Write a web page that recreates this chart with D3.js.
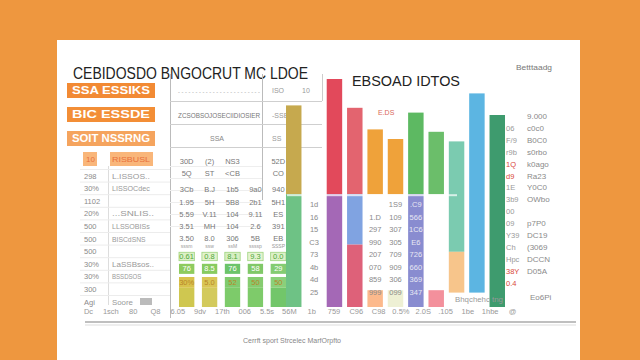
<!DOCTYPE html>
<html><head><meta charset="utf-8">
<script src="https://cdn.jsdelivr.net/npm/d3@7"></script>
<style>html,body{margin:0;padding:0;background:#EE973F;}svg{display:block}</style>
</head><body><svg id="c" width="640" height="360"></svg>
<script>
// ---------- data ----------
const barCats = ["Q1", "", "Q2", "Q3", "Q4", "Q5", "Q6", "Q7", "Q8", "Q9", "Q10"];
const mainCats = ["Q1", "Q2", "Q3", "Q4", "Q5", "Q6", "Q7", "Q8", "Q9", "Q10"];
const upperTop = [84, 95, 83, 74, 70, 81, 73, 69, 89, 80];
const upperBase = [47, 47, 47, 47, 47, 47, 47, 23, 6, 0];
const midBase = [0, 0, 26, 0, 0, 0, 0, 6, 0, 0];
const midTop = [47, 47, 47, 0, 0, 47, 0, 23, 0, 0];
const lowTop = [0, 0, 26, 7, 7, 0, 7, 0, 0, 0];
const upperColor = ["#C6A94E", "#E2495B", "#E3646F", "#EFA23A", "#EFA23A", "#5DB962", "#6BBE6A", "#7BCBB0", "#5CB5E2", "#3E9B6E"];
const midColor = ["#5EBB78", "#9A58AE", "#7299DE", null, null, "#7C7FCB", null, "#F6BF7E", null, null];
const lowColor = [null, null, "#DE6179", "#FCB98C", "#EEF0D4", null, "#F3909C", null, null, null];

// mini stacked cells in the table: [from, to] in value units
const miniCats = ["M1", "M2", "M3", "M4", "M5"];
const miniSegs = [[0, 8], [8, 12.5], [13.8, 18], [19.3, 22.8]];
const miniColors = [
  ["#CFC750", "#D3CA5C", "#7DCB6A", "#7ECB6A", "#72C66A"],
  ["#D8C24C", "#D9C656", "#80CB6E", "#86CC70", "#8AD07A"],
  ["#8ECB5E", "#88CB60", "#6CC46A", "#80C868", "#84CC72"],
  ["#DDF0C6", "#E2F2CC", "#D6EEC2", "#E4F3D0", "#DDF0C8"]
];
const miniLabels = [
  ["", "", "", "", ""],
  ["30%", "5.0", "52", "50", "50"],
  ["76", "8.5", "76", "58", "29"],
  ["0.61", "0.8", "8.1", "9.3", "0.0"]
];
const miniLabelColors = ["#fff", "#B8862A", "#ffffff", "#4FA83A"];

const title = "CEBIDOSDO BNGOCRUT MC LDOE";
const subTitle = "EBSOAD IDTOS";
const cornerLabel = "Betttaadg";
const footer = "Cerrft sport  Strcelec  MarfOrpfto";
const tagLabels = ["SSA  ESSIKS", "BIC   ESSDE", "SOIT NSSRNG"];
const rowLabels = ["298", "30%", "1102", "20%", "500", "500", "500", "30%", "30%", "300", "Agi"];
const sideLabels = ["L.ISSOS..", "LISSOCdec", "", "...SNLIS..", "LLSSOBISs", "BISCdSNS", "", "LaSSBsos..", "BSSDSOS", "", "Soore"];
const axisLabels = ["Dc", "1sch", "80", "Q8", "6.05", "9dv", "17th", "006", "5.5s", "56M", "1b", "759", "C96", "C98", "0.5%", "2.0S", ".105", "1be", "1hbe", "@"];
const cellRows = [
  ["30D", "(2)", "NS3", "", "52D"],
  ["5Q", "ST", "<CB", "", "CO"],
  ["3Cb", "B.J", "1b5", "9a0", "940"],
  ["1.95", "5H", "5B8", "2b1", "5H1"],
  ["5.59", "V.11", "104", "9.11", "ES"],
  ["3.51", "MH", "104", "2.6", "391"],
  ["3.50", "8.0", "306", "5B", "EB"]
];
const smallRow = ["sssm", "ssw", "ssM", "ssssp", "SSSP"];
const overlayCats = ["", "Q4", "Q5", "Q6"];
const overlayCols = [
  ["1d", "16", "15", "C3", "73", "4b", "4d", "25"],
  ["", "1.D", "297", "990", "207", "070", "859", "999"],
  ["1S9", "109", "307", "305", "709", "909", "306", "099"],
  [".C9", "566", "1C6", "E6", "726", "660", "369", "347"]
];
const rightA = ["", "06", "F/9", "r9b", "1Q", "d9", "1E", "3b9", "00", "09", "Y39", "Ch", "Hpc", "38Y", "0.4"];
const rightB = ["9.000", "c0c0", "B0C0", "s0rbo", "k0ago", "Ra23", "Y0C0", "OWbo", "", "p7P0", "DC19", "(3069", "DCCN", "D05A", ""];
const rightRed = [false, false, false, false, true, true, false, false, false, false, false, false, false, true, true];

// ---------- drawing ----------
const svg = d3.select("#c");
const F = "'Liberation Sans', 'DejaVu Sans', sans-serif";

svg.append("rect").attr("width", 640).attr("height", 360).attr("fill", "#EE973F");
svg.append("rect").attr("x", 57).attr("y", 40).attr("width", 523).attr("height", 330).attr("fill", "#fff");

const y = d3.scaleLinear().domain([0, 100]).range([307, 67]);
const x = d3.scaleBand().domain(barCats).range([286, 505]).paddingInner(0.24);
const xm = d3.scaleBand().domain(miniCats).range([179, 286]).paddingInner(0.33);

// titles
svg.append("text").attr("x", 73).attr("y", 79).attr("font-family", F).attr("font-size", 17)
  .attr("fill", "#222").attr("textLength", 235).attr("lengthAdjust", "spacingAndGlyphs").text(title);
svg.append("text").attr("x", 352).attr("y", 86).attr("font-family", F).attr("font-size", 15)
  .attr("fill", "#222").attr("textLength", 108).attr("lengthAdjust", "spacingAndGlyphs").text(subTitle);
svg.append("text").attr("x", 516).attr("y", 70).attr("font-family", F).attr("font-size", 8)
  .attr("fill", "#777").attr("textLength", 36).attr("lengthAdjust", "spacingAndGlyphs").text(cornerLabel);

// table grid
const g = svg.append("g").attr("stroke", "#cfcfcf").attr("stroke-width", 1);
g.append("line").attr("x1", 170.5).attr("x2", 170.5).attr("y1", 74).attr("y2", 318).attr("stroke", "#bbb");
g.append("line").attr("x1", 262.5).attr("x2", 262.5).attr("y1", 74).attr("y2", 200).attr("stroke", "#bbb");
g.append("line").attr("x1", 322.5).attr("x2", 322.5).attr("y1", 74).attr("y2", 101).attr("stroke", "#ccc");
[101.5, 124.5, 147.5].forEach(v => g.append("line").attr("x1", 170).attr("x2", 322).attr("y1", v).attr("y2", v));
g.append("line").attr("x1", 108.5).attr("x2", 108.5).attr("y1", 166).attr("y2", 305).attr("stroke", "#ddd");
d3.range(11).forEach(i => {
  const yy = 169.5 + i * 12.6;
  g.append("line").attr("x1", 80).attr("x2", 170).attr("y1", yy).attr("y2", yy).attr("stroke", "#ececec");
});
d3.range(6).forEach(i => {
  const yy = 166.5 + i * 12;
  g.append("line").attr("x1", 170).attr("x2", 262).attr("y1", yy).attr("y2", yy).attr("stroke", "#eee");
});

// header cells
svg.append("text").attr("x", 178).attr("y", 94).attr("font-family", F).attr("font-size", 5).attr("fill", "#999")
  .attr("textLength", 82).attr("lengthAdjust", "spacingAndGlyphs").text("- - - - - - - - - - - - - - - - - - - - - - - -");
svg.append("text").attr("x", 178).attr("y", 118).attr("font-family", F).attr("font-size", 7).attr("fill", "#777")
  .attr("textLength", 82).attr("lengthAdjust", "spacingAndGlyphs").text("ZCSOBSOJOSECIIDIOSIER");
svg.append("text").attr("x", 210).attr("y", 141).attr("font-family", F).attr("font-size", 7).attr("fill", "#888").text("SSA");
[["ISO", 93], ["-SSB", 118], ["SS", 141]].forEach(d =>
  svg.append("text").attr("x", 272).attr("y", d[1]).attr("font-family", F).attr("font-size", 7).attr("fill", "#999").text(d[0]));
svg.append("text").attr("x", 302).attr("y", 93).attr("font-family", F).attr("font-size", 7).attr("fill", "#999").text("10");

// orange tags
const tagColors = ["#F28A34", "#F38E36", "#F5A45E"];
tagLabels.forEach((t, i) => {
  const yy = 83 + i * 24;
  svg.append("rect").attr("x", 67).attr("y", yy).attr("width", 88).attr("height", 15).attr("fill", tagColors[i]);
  svg.append("text").attr("x", 72).attr("y", yy + 11).attr("font-family", F).attr("font-size", 10).attr("font-weight", "bold")
    .attr("fill", "#fff").attr("textLength", 78).attr("lengthAdjust", "spacingAndGlyphs").text(t);
});
svg.append("rect").attr("x", 83).attr("y", 152).attr("width", 14).attr("height", 14).attr("fill", "#F9B67A");
svg.append("rect").attr("x", 110).attr("y", 152).attr("width", 43).attr("height", 14).attr("fill", "#F9B67A");
svg.append("text").attr("x", 86).attr("y", 162).attr("font-family", F).attr("font-size", 8).attr("fill", "#E8703A").text("10");
svg.append("text").attr("x", 112).attr("y", 162).attr("font-family", F).attr("font-size", 8).attr("fill", "#E8703A")
  .attr("textLength", 38).attr("lengthAdjust", "spacingAndGlyphs").text("RISBUSL");

// left column labels
rowLabels.forEach((t, i) => svg.append("text").attr("x", 84).attr("y", 178.5 + i * 12.6).attr("font-family", F)
  .attr("font-size", 7.5).attr("fill", "#8a8a8a").text(t));
sideLabels.forEach((t, i) => {
  if (!t) return;
  svg.append("text").attr("x", 112).attr("y", 178.5 + i * 12.6).attr("font-family", F)
    .attr("font-size", 7).attr("fill", "#999").attr("textLength", t.length * 4.2).attr("lengthAdjust", "spacingAndGlyphs").text(t);
});
svg.append("rect").attr("x", 140).attr("y", 298).attr("width", 12).attr("height", 7).attr("fill", "#bbb");

// cell numbers
const cellY = [164, 176, 192, 205, 217, 229, 241];
cellRows.forEach((row, r) => row.forEach((t, c) => {
  svg.append("text").attr("x", xm(miniCats[c]) + xm.bandwidth() / 2).attr("y", cellY[r]).attr("text-anchor", "middle")
    .attr("font-family", F).attr("font-size", 7.5).attr("fill", "#777").text(t);
}));
smallRow.forEach((t, c) => svg.append("text").attr("x", xm(miniCats[c]) + xm.bandwidth() / 2).attr("y", 248)
  .attr("text-anchor", "middle").attr("font-family", F).attr("font-size", 5).attr("fill", "#999").text(t));

// mini stacked cells
const mini = svg.append("g");
miniCats.forEach((c, i) => {
  miniSegs.forEach((s, k) => {
    mini.append("rect").attr("x", xm(c)).attr("width", xm.bandwidth())
      .attr("y", y(s[1])).attr("height", y(s[0]) - y(s[1])).attr("fill", miniColors[k][i])
      .attr("stroke", k === 3 ? "#9ED47E" : "none").attr("stroke-width", 0.8);
    if (miniLabels[k][i]) mini.append("text").attr("x", xm(c) + xm.bandwidth() / 2).attr("y", (y(s[0]) + y(s[1])) / 2 + 2.5)
      .attr("text-anchor", "middle").attr("font-family", F).attr("font-size", 7.5).attr("fill", miniLabelColors[k]).text(miniLabels[k][i]);
  });
});

// main bars
const bars = svg.append("g");
mainCats.forEach((c, i) => {
  const bx = x(c), bw = x.bandwidth();
  bars.append("rect").attr("x", bx).attr("width", bw).attr("y", y(upperTop[i]))
    .attr("height", y(upperBase[i]) - y(upperTop[i])).attr("fill", upperColor[i]);
  if (midColor[i]) bars.append("rect").attr("x", bx).attr("width", bw).attr("y", y(midTop[i]))
    .attr("height", y(midBase[i]) - y(midTop[i])).attr("fill", midColor[i]).attr("opacity", 0.9);
  if (lowColor[i]) bars.append("rect").attr("x", bx).attr("width", bw).attr("y", y(lowTop[i]))
    .attr("height", y(0) - y(lowTop[i])).attr("fill", lowColor[i]);
});
svg.append("rect").attr("x", 287).attr("y", y(47)).attr("width", 170).attr("height", 2).attr("fill", "#fff").attr("opacity", 0.7);

// overlay numbers
overlayCols.forEach((col, ci) => col.forEach((t, r) =>
  svg.append("text").attr("x", x(overlayCats[ci]) + x.bandwidth() / 2).attr("y", 207 + r * 12.5).attr("text-anchor", "middle")
    .attr("font-family", F).attr("font-size", 7.5).attr("fill", ci === 3 ? "#e8e8f4" : "#8a8a8a").text(t)));
svg.append("text").attr("x", 378).attr("y", 115).attr("font-family", F).attr("font-size", 7).attr("fill", "#D9685A").text("E.DS");
svg.append("text").attr("x", 455).attr("y", 302).attr("font-family", F).attr("font-size", 6.5).attr("fill", "#999")
  .attr("textLength", 48).attr("lengthAdjust", "spacingAndGlyphs").text("Bhqchehc tng");

// right list
rightA.forEach((t, i) => svg.append("text").attr("x", 506).attr("y", 119 + i * 11.9).attr("font-family", F)
  .attr("font-size", 7.5).attr("fill", rightRed[i] ? "#D9483B" : "#999").text(t));
rightB.forEach((t, i) => svg.append("text").attr("x", 527).attr("y", 119 + i * 11.9).attr("font-family", F)
  .attr("font-size", 8).attr("fill", "#8a8a8a").text(t));
svg.append("text").attr("x", 530).attr("y", 300).attr("font-family", F).attr("font-size", 8).attr("fill", "#8a8a8a").text("Eo6Pi");

// bottom axis
const xa = d3.scalePoint().domain(axisLabels).range([88, 512]);
const ax = svg.append("g").attr("transform", "translate(0,304)")
  .call(d3.axisBottom(xa).tickSize(0).tickPadding(5));
ax.select(".domain").remove();
ax.selectAll("text").attr("font-family", F).attr("font-size", 7.5).attr("fill", "#999");
svg.append("line").attr("x1", 85).attr("x2", 576).attr("y1", 322).attr("y2", 322).attr("stroke", "#aaa").attr("stroke-width", 1.5);
svg.append("line").attr("x1", 85).attr("x2", 576).attr("y1", 325).attr("y2", 325).attr("stroke", "#ddd").attr("stroke-width", 1);

svg.append("text").attr("x", 243).attr("y", 343).attr("font-family", F).attr("font-size", 8).attr("fill", "#888")
  .attr("textLength", 98).attr("lengthAdjust", "spacingAndGlyphs").text(footer);
</script></body></html>
